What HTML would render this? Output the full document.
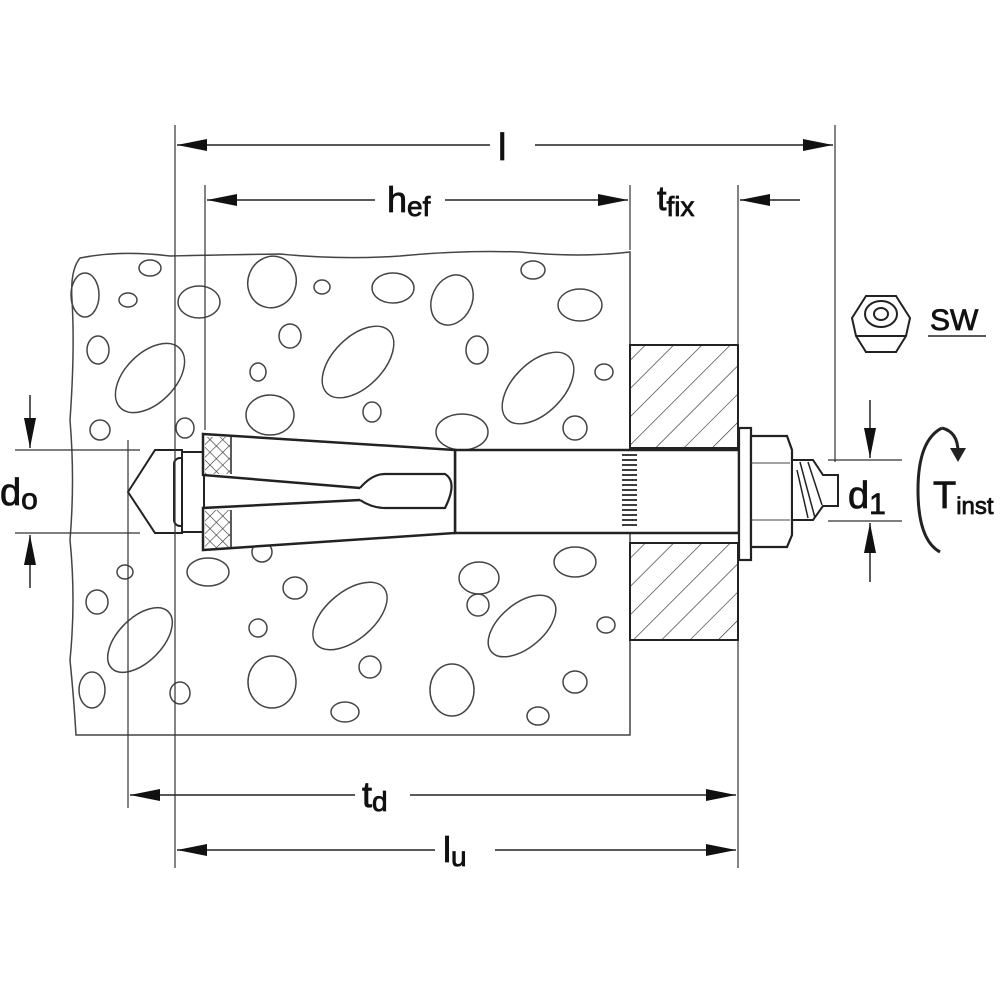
<!DOCTYPE html>
<html><head><style>html,body{margin:0;padding:0;background:#fff}svg{display:block}</style></head>
<body>
<svg width="1000" height="1000" viewBox="0 0 1000 1000" xmlns="http://www.w3.org/2000/svg" font-family="Liberation Sans, sans-serif">
<defs>
<marker id="a" viewBox="0 0 30 12" refX="30" refY="6" markerWidth="30" markerHeight="12" markerUnits="userSpaceOnUse" orient="auto"><path d="M0,0 L30,6 L0,12z" fill="#111"/></marker>
<pattern id="h" width="20" height="20" patternUnits="userSpaceOnUse" patternTransform="rotate(45)"><line x1="0" y1="0" x2="0" y2="20" stroke="#333" stroke-width="1.3"/></pattern>
<pattern id="x" width="9" height="9" patternUnits="userSpaceOnUse" patternTransform="rotate(45)"><path d="M0,0V9M0,0H9" stroke="#333" stroke-width="1.2"/></pattern>
</defs>
<path d="M80,258 Q70,270 72,300 Q75,350 70,420 Q75,480 70,540 Q76,600 70,660 Q74,700 76,735 L630,735 L630,252 Q580,258 520,252 Q460,250 400,256 Q340,260 280,254 Q210,255 170,256 Q120,250 80,258z" fill="#fff" stroke="#444" stroke-width="1.5"/>
<g fill="none" stroke="#444" stroke-width="1.5">
<ellipse cx="150" cy="268" rx="11" ry="8"/><ellipse cx="272" cy="282" rx="24" ry="26" transform="rotate(20 272 282)"/><ellipse cx="322" cy="287" rx="8" ry="7"/>
<ellipse cx="393" cy="288" rx="21" ry="15"/><ellipse cx="452" cy="300" rx="20" ry="26" transform="rotate(25 452 300)"/><ellipse cx="533" cy="270" rx="12" ry="9"/>
<ellipse cx="580" cy="305" rx="22" ry="16"/><ellipse cx="85" cy="295" rx="14" ry="22"/><ellipse cx="128" cy="300" rx="9" ry="7"/>
<ellipse cx="199" cy="302" rx="21" ry="16"/><ellipse cx="290" cy="336" rx="11" ry="12"/><ellipse cx="98" cy="350" rx="11" ry="14"/>
<ellipse cx="150" cy="378" rx="42" ry="25" transform="rotate(-45 150 378)"/><ellipse cx="358" cy="362" rx="44" ry="25" transform="rotate(-45 358 362)"/>
<ellipse cx="477" cy="350" rx="11" ry="14"/><ellipse cx="538" cy="388" rx="44" ry="25" transform="rotate(-45 538 388)"/><ellipse cx="604" cy="372" rx="9" ry="8"/>
<ellipse cx="258" cy="372" rx="8" ry="9"/><ellipse cx="372" cy="412" rx="9" ry="10"/><ellipse cx="270" cy="415" rx="24" ry="20"/>
<ellipse cx="462" cy="432" rx="26" ry="18"/><ellipse cx="575" cy="428" rx="12" ry="12"/><ellipse cx="100" cy="430" rx="10" ry="10"/><ellipse cx="185" cy="428" rx="9" ry="10"/>
<ellipse cx="208" cy="572" rx="21" ry="14"/><ellipse cx="262" cy="552" rx="10" ry="10"/><ellipse cx="295" cy="588" rx="12" ry="11"/>
<ellipse cx="350" cy="616" rx="44" ry="24" transform="rotate(-40 350 616)"/><ellipse cx="479" cy="578" rx="20" ry="16"/><ellipse cx="478" cy="605" rx="11" ry="11"/>
<ellipse cx="522" cy="626" rx="40" ry="22" transform="rotate(-40 522 626)"/><ellipse cx="575" cy="562" rx="21" ry="15"/><ellipse cx="97" cy="602" rx="11" ry="12"/>
<ellipse cx="140" cy="640" rx="40" ry="22" transform="rotate(-45 140 640)"/><ellipse cx="258" cy="628" rx="9" ry="9"/><ellipse cx="370" cy="667" rx="11" ry="11"/>
<ellipse cx="272" cy="682" rx="24" ry="26"/><ellipse cx="452" cy="690" rx="22" ry="26"/><ellipse cx="538" cy="716" rx="11" ry="9"/>
<ellipse cx="575" cy="682" rx="12" ry="11"/><ellipse cx="180" cy="693" rx="10" ry="11"/><ellipse cx="606" cy="625" rx="9" ry="8"/>
<ellipse cx="92" cy="690" rx="13" ry="18"/><ellipse cx="345" cy="712" rx="14" ry="10"/><ellipse cx="125" cy="572" rx="8" ry="7"/>
</g>
<rect x="630" y="345" width="108" height="103" fill="url(#h)" stroke="#222" stroke-width="2"/>
<rect x="630" y="543" width="108" height="97" fill="url(#h)" stroke="#222" stroke-width="2"/>
<rect x="455" y="450" width="284" height="83" fill="#fff" stroke="#222" stroke-width="2.5"/>
<g stroke="#222" stroke-width="1.8"><path d="M622,455H637M622,460H637M622,465H637M622,470H637M622,475H637M622,480H637M622,485H637M622,490H637M622,495H637M622,500H637M622,505H637M622,510H637M622,515H637M622,520H637M622,525H637"/></g>
<path d="M182,450 L155,450 L128,492 L155,533 L182,533z" fill="#fff" stroke="#222" stroke-width="2"/>
<rect x="174" y="458" width="22" height="68" rx="6" fill="#fff" stroke="#222" stroke-width="2"/>
<rect x="182" y="452" width="22" height="80" fill="#fff" stroke="#222" stroke-width="2"/>
<path d="M203,434 L455,450 L455,533 L203,550 L203,508 L360,500 Q370,493 360,488 L203,475z" fill="#fff" stroke="#222" stroke-width="2.5"/>
<path d="M360,488 Q372,474 385,474 L445,474 Q458,482 445,508 L385,508 Q372,508 360,500" fill="#fff" stroke="#222" stroke-width="2.2"/>
<rect x="205" y="437" width="25" height="37" fill="url(#x)"/>
<rect x="205" y="510" width="25" height="38" fill="url(#x)"/>
<line x1="231" y1="436" x2="231" y2="474" stroke="#222" stroke-width="1.5"/>
<line x1="231" y1="510" x2="231" y2="548" stroke="#222" stroke-width="1.5"/>
<rect x="739" y="428" width="12" height="132" fill="#fff" stroke="#222" stroke-width="2.2"/>
<path d="M751,436 L787,436 L792,450 L792,535 L787,547 L751,547z" fill="#fff" stroke="#222" stroke-width="2.2"/>
<line x1="751" y1="463" x2="790" y2="463" stroke="#444" stroke-width="1"/><line x1="751" y1="520" x2="790" y2="520" stroke="#444" stroke-width="1"/>
<path d="M792,460 L813,460 L823,475 L838,475 L838,506 L823,506 L813,520 L792,520z" fill="#fff" stroke="#222" stroke-width="2"/>
<path d="M800,462 L815,518 M808,462 L822,505 M797,470 L808,518" stroke="#222" stroke-width="1.5"/>
<g stroke="#333" stroke-width="1.2">
<line x1="175" y1="125" x2="175" y2="868"/><line x1="128" y1="440" x2="128" y2="808"/>
<line x1="205" y1="185" x2="205" y2="430"/><line x1="630" y1="185" x2="630" y2="250"/>
<line x1="738" y1="185" x2="738" y2="345"/><line x1="738" y1="640" x2="738" y2="868"/>
<line x1="835" y1="125" x2="835" y2="462"/>
<line x1="15" y1="450" x2="140" y2="450"/><line x1="15" y1="533" x2="140" y2="533"/>
<line x1="828" y1="460" x2="902" y2="460"/><line x1="828" y1="521" x2="902" y2="521"/>
</g>
<g stroke="#222" stroke-width="1.5" fill="none">
<line x1="490" y1="145" x2="177" y2="145" marker-end="url(#a)"/><line x1="535" y1="145" x2="833" y2="145" marker-end="url(#a)"/>
<line x1="375" y1="200" x2="207" y2="200" marker-end="url(#a)"/><line x1="445" y1="200" x2="628" y2="200" marker-end="url(#a)"/>
<line x1="800" y1="200" x2="740" y2="200" marker-end="url(#a)"/>
<line x1="355" y1="795" x2="130" y2="795" marker-end="url(#a)"/><line x1="410" y1="795" x2="736" y2="795" marker-end="url(#a)"/>
<line x1="435" y1="850" x2="177" y2="850" marker-end="url(#a)"/><line x1="495" y1="850" x2="736" y2="850" marker-end="url(#a)"/>
<line x1="30" y1="395" x2="30" y2="448" marker-end="url(#a)"/><line x1="30" y1="588" x2="30" y2="535" marker-end="url(#a)"/>
<line x1="870" y1="400" x2="870" y2="458" marker-end="url(#a)"/><line x1="870" y1="582" x2="870" y2="523" marker-end="url(#a)"/>
</g>
<path d="M942,428 Q918,440 918,490 Q918,540 940,552" fill="none" stroke="#222" stroke-width="3"/>
<path d="M942,428 Q958,432 958,452" fill="none" stroke="#222" stroke-width="3"/>
<path d="M950,448 L966,448 L958,462z" fill="#222"/>
<g stroke="#222" stroke-width="2" fill="#fff">
<path d="M852,318 L866,296 L896,296 L910,318 L896,352 L866,352z"/>
<path d="M852,318 L856,336 L866,352 L896,352 L906,336 L910,318"/>
<line x1="856" y1="336" x2="906" y2="336"/>
<ellipse cx="881" cy="314" rx="16" ry="13"/><ellipse cx="881" cy="314" rx="7" ry="6"/>
</g>
<line x1="928" y1="336" x2="986" y2="336" stroke="#222" stroke-width="1.5"/>
<g fill="#111" font-size="38" stroke="#111" stroke-width="0.8">
<text x="498" y="160">l</text>
<text x="387" y="212" font-size="36">h<tspan font-size="28" dy="4">ef</tspan></text>
<text x="657" y="210" font-size="34">t<tspan font-size="28" dy="6">fix</tspan></text>
<text x="930" y="330" font-size="30">SW</text>
<text x="362" y="807" font-size="36">t<tspan font-size="28" dy="4">d</tspan></text>
<text x="443" y="862" font-size="36">l<tspan font-size="28" dy="4">u</tspan></text>
<text x="0" y="505" font-size="38">d<tspan font-size="30" dy="4">o</tspan></text>
<text x="848" y="508" font-size="38">d<tspan font-size="30" dy="6">1</tspan></text>
<text x="933" y="508" font-size="38">T<tspan font-size="24" dy="6">inst</tspan></text>
</g>
</svg>
</body></html>
